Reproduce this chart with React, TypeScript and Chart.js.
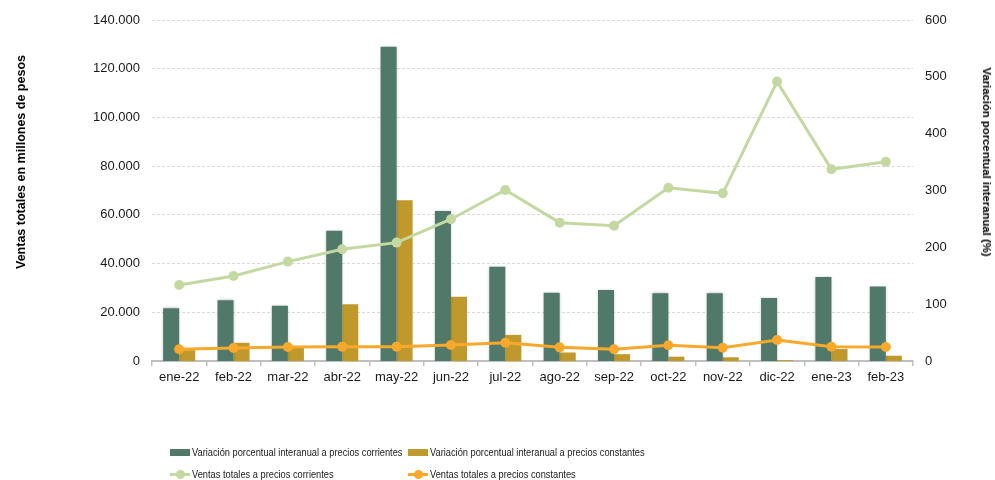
import React, { useEffect, useRef } from "react";
import { Chart, registerables } from "chart.js";

Chart.register(...registerables);

const categories = ["ene-22", "feb-22", "mar-22", "abr-22", "may-22", "jun-22", "jul-22", "ago-22", "sep-22", "oct-22", "nov-22", "dic-22", "ene-23", "feb-23"];
const varCorrientes = [93, 107, 97, 229, 553, 264, 166, 120, 125, 119, 119, 111, 148, 131];
const varConstantes = [19, 32, 24, 100, 283, 113, 46, 15, 12, 7.6, 6.5, 1.5, 21, 9.3];
const ventasCorrientes = [31200, 34900, 40800, 45850, 48600, 58200, 70200, 56800, 55500, 71150, 68850, 114700, 78700, 81800];
const ventasConstantes = [4800, 5340, 5750, 5900, 5900, 6570, 7500, 5600, 4800, 6430, 5470, 8620, 5870, 5750];

const seriesLabels = [
  "Variación porcentual interanual a precios corrientes",
  "Variación porcentual interanual a precios constantes",
  "Ventas totales a precios corrientes",
  "Ventas totales a precios constantes",
];
const leftTitle = "Ventas totales en millones de pesos";
const rightTitle = "Variación porcentual interanual (%)";

const C_DARK = "#50796a";
const C_GOLD = "#bf992b";
const C_LGREEN = "#c4d9a1";
const C_ORANGE = "#f8a82a";

const fmt = (v: number) => String(v).replace(/\B(?=(\d{3})+(?!\d))/g, ".");

const shadowPlugin = {
  id: "barShadow",
  beforeDatasetDraw(chart: any, args: any) {
    if (args.index === 0) {
      const ctx = chart.ctx;
      ctx.save();
      ctx.shadowColor = "rgba(0,0,0,0.3)";
      ctx.shadowBlur = 3;
    }
  },
  afterDatasetDraw(chart: any, args: any) {
    if (args.index === 0) chart.ctx.restore();
  },
};

export default function App() {
  const ref = useRef<HTMLCanvasElement | null>(null);

  useEffect(() => {
    if (!ref.current) return;
    Chart.defaults.font.family = "'Liberation Sans', Arial, sans-serif";
    const chart = new Chart(ref.current, {
      type: "bar",
      data: {
        labels: categories,
        datasets: [
          {
            type: "bar",
            label: seriesLabels[0],
            data: varCorrientes,
            backgroundColor: C_DARK,
            yAxisID: "y1",
            order: 2,
            categoryPercentage: 0.59,
            barPercentage: 1,
          },
          {
            type: "bar",
            label: seriesLabels[1],
            data: varConstantes,
            backgroundColor: C_GOLD,
            yAxisID: "y1",
            order: 2,
            categoryPercentage: 0.59,
            barPercentage: 1,
          },
          {
            type: "line",
            label: seriesLabels[2],
            data: ventasCorrientes,
            borderColor: C_LGREEN,
            backgroundColor: C_LGREEN,
            borderWidth: 3,
            pointRadius: 5,
            pointBackgroundColor: C_LGREEN,
            pointBorderWidth: 0,
            yAxisID: "y",
            order: 0,
          },
          {
            type: "line",
            label: seriesLabels[3],
            data: ventasConstantes,
            borderColor: C_ORANGE,
            backgroundColor: C_ORANGE,
            borderWidth: 3,
            pointRadius: 5,
            pointBackgroundColor: C_ORANGE,
            pointBorderWidth: 0,
            yAxisID: "y",
            order: 0,
          },
        ],
      },
      options: {
        responsive: false,
        animation: false,
        layout: { padding: { top: 20, left: 0, right: 0, bottom: 0 } },
        plugins: { legend: { display: false }, tooltip: { enabled: false } },
        scales: {
          x: {
            offset: true,
            grid: {
              offset: true,
              display: true,
              drawOnChartArea: false,
              drawTicks: true,
              tickLength: 5,
              color: "#bfbfbf",
              lineWidth: 1.5,
            },
            border: { display: true, color: "#bfbfbf", width: 2 },
            ticks: { color: "#1a1a1a", font: { size: 13 }, padding: 4, maxRotation: 0 },
            afterFit: (s: any) => { s.height = 119; },
          },
          y: {
            position: "left",
            min: 0,
            max: 140000,
            ticks: { stepSize: 20000, color: "#1a1a1a", font: { size: 13 }, padding: 12, callback: (v: any) => fmt(Number(v)) },
            grid: { color: "#d9d9d9", lineWidth: 1, drawTicks: false },
            border: { display: false, dash: [3, 2] },
            afterFit: (s: any) => { s.width = 152; },
          },
          y1: {
            position: "right",
            min: 0,
            max: 600,
            ticks: { stepSize: 100, color: "#1a1a1a", font: { size: 13 }, padding: 12 },
            grid: { display: false, drawTicks: false },
            border: { display: false },
            afterFit: (s: any) => { s.width = 82; },
          },
        },
      },
      plugins: [shadowPlugin],
    } as any);
    return () => chart.destroy();
  }, []);

  const legendItem = (i: number, kind: "bar" | "line", color: string) => (
    <div key={i} style={{ display: "flex", alignItems: "center", height: 22, overflow: "visible" }}>
      {kind === "bar" ? (
        <span style={{ display: "inline-block", flexShrink: 0, width: 20, height: 7, background: color, marginRight: 2 }} />
      ) : (
        <span style={{ position: "relative", flexShrink: 0, display: "inline-block", width: 20, height: 10, marginRight: 2 }}>
          <span style={{ position: "absolute", left: 0, right: 0, top: 4, height: 3, background: color }} />
          <span style={{ position: "absolute", left: 6, top: 1, width: 9, height: 9, borderRadius: "50%", background: color }} />
        </span>
      )}
      <span style={{ display: "inline-block", transform: "scaleX(0.82)", transformOrigin: "left center", whiteSpace: "nowrap" }}>
        {seriesLabels[i]}
      </span>
    </div>
  );

  return (
    <div style={{ position: "fixed", left: 0, top: 0, width: 995, height: 480, background: "#fff", overflow: "hidden" }}>
      <canvas ref={ref} width={995} height={480} style={{ position: "absolute", left: 0, top: 0 }} />
      <div
        style={{
          position: "absolute",
          left: 21,
          top: 162,
          transform: "translate(-50%, -50%) rotate(-90deg)",
          whiteSpace: "nowrap",
          fontFamily: "'Liberation Sans', Arial, sans-serif",
          fontWeight: "bold",
          fontSize: 12.5,
          color: "#000",
        }}
      >
        {leftTitle}
      </div>
      <div
        style={{
          position: "absolute",
          left: 987,
          top: 162,
          transform: "translate(-50%, -50%) rotate(90deg)",
          whiteSpace: "nowrap",
          fontFamily: "'Liberation Sans', Arial, sans-serif",
          fontWeight: "bold",
          fontSize: 11.3,
          color: "#000",
        }}
      >
        {rightTitle}
      </div>
      <div
        style={{
          position: "absolute",
          left: 170,
          top: 441,
          display: "grid",
          gridTemplateColumns: "238px 400px",
          fontFamily: "'Liberation Sans', Arial, sans-serif",
          fontSize: 11.3,
          color: "#1a1a1a",
          whiteSpace: "nowrap",
        }}
      >
        {legendItem(0, "bar", C_DARK)}
        {legendItem(1, "bar", C_GOLD)}
        {legendItem(2, "line", C_LGREEN)}
        {legendItem(3, "line", C_ORANGE)}
      </div>
    </div>
  );
}
